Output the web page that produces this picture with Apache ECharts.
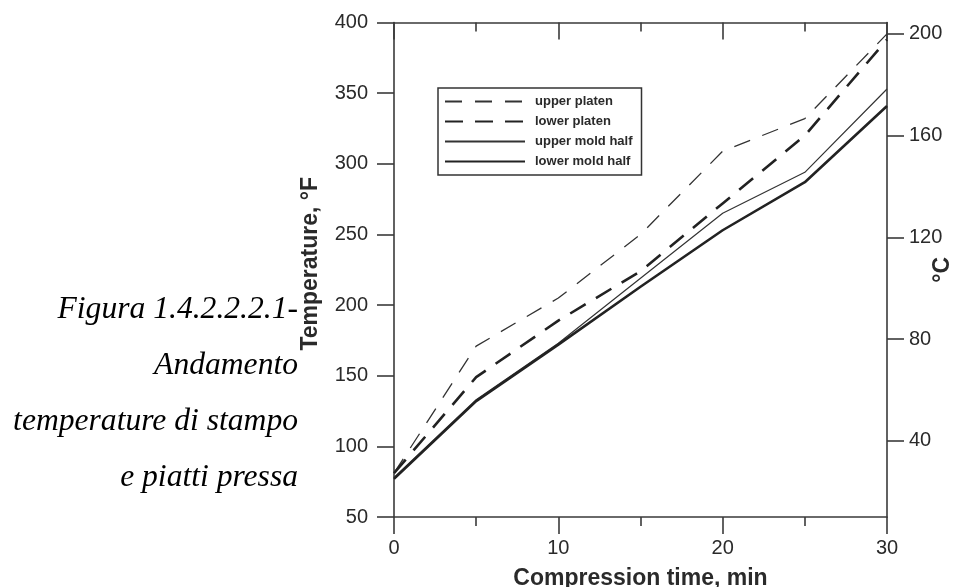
<!DOCTYPE html>
<html>
<head>
<meta charset="utf-8">
<script src="https://cdn.jsdelivr.net/npm/echarts@6/dist/echarts.min.js"></script>
<style>
html,body{margin:0;padding:0;background:#fff;}
#c{width:967px;height:587px;}
</style>
</head>
<body>
<div id="c"></div>
<script>
// ---- data ----
const times = [0, 5, 10, 15, 20, 25, 30];
const upperPlaten = [81, 171, 205, 250, 309, 332, 392];
const lowerPlaten = [81, 149, 189, 224, 272, 320, 388];
const upperMold = [78, 133, 173, 219, 265, 294, 353];
const lowerMold = [77, 132, 172, 213, 253, 287, 341];
const seriesNames = ['upper platen', 'lower platen', 'upper mold half', 'lower mold half'];
const celsiusTicks = [40, 80, 120, 160, 200];
const captionLines = ['Figura 1.4.2.2.2.1-', 'Andamento', 'temperature di stampo', 'e piatti pressa'];
const xTitle = 'Compression time, min';
const yTitleF = 'Temperature, °F';
const yTitleC = '°C';

const fMin = 50, fMax = 400;
const toC = f => (f - 32) * 5 / 9;

const pairs = arr => times.map((t, i) => [t, arr[i]]);

const axisCol = '#3a3a3a';
const txtCol = '#2a2a2a';
const font = '"Liberation Sans", Arial, sans-serif';

const chart = echarts.init(document.getElementById('c'));

const lineStyles = [
  { width: 1.3, type: [17, 13], color: '#333' },
  { width: 2.6, type: [18, 12], color: '#222' },
  { width: 1.2, type: 'solid', color: '#333' },
  { width: 2.6, type: 'solid', color: '#222' }
];
const dataSets = [upperPlaten, lowerPlaten, upperMold, lowerMold];
const axLine = { show: true, onZero: false, lineStyle: { color: axisCol, width: 1.6 } };

chart.setOption({
  animation: false,
  backgroundColor: '#fff',
  grid: { left: 394, right: 80, top: 22.6, bottom: 70, containLabel: false, outerBoundsMode: 'none' },
  legend: {
    orient: 'vertical',
    left: 438,
    top: 88,
    padding: [7, 9, 7, 6],
    itemGap: 7,
    itemWidth: 80,
    itemHeight: 13,
    borderColor: '#333',
    borderWidth: 1.5,
    data: seriesNames,
    itemStyle: { opacity: 0 },
    textStyle: { fontFamily: font, fontWeight: 'bold', fontSize: 13, color: txtCol, padding: [0, 0, 0, 5] }
  },
  xAxis: [
    {
      type: 'value', position: 'bottom', min: 0, max: 30, interval: 10,
      axisLine: axLine,
      axisTick: { show: true, inside: false, length: 17, lineStyle: { color: axisCol, width: 1.6 } },
      minorTick: { show: true, splitNumber: 2, length: 9, lineStyle: { color: axisCol, width: 1.6 } },
      axisLabel: { margin: 21, fontFamily: font, fontSize: 20, color: txtCol },
      splitLine: { show: false },
      name: xTitle, nameLocation: 'middle', nameGap: 50, nameMoveOverlap: false,
      nameTextStyle: { fontFamily: font, fontWeight: 'bold', fontSize: 23, color: txtCol }
    },
    {
      type: 'value', position: 'top', min: 0, max: 30, interval: 10,
      axisLine: axLine,
      axisTick: { show: true, inside: true, length: 17, lineStyle: { color: axisCol, width: 1.6 } },
      minorTick: { show: true, splitNumber: 2, length: 9, lineStyle: { color: axisCol, width: 1.6 } },
      axisLabel: { show: false },
      splitLine: { show: false }
    }
  ],
  yAxis: [
    {
      type: 'value', position: 'left', min: fMin, max: fMax, interval: 50,
      axisLine: axLine,
      axisTick: { show: true, inside: false, length: 17, lineStyle: { color: axisCol, width: 1.6 } },
      axisLabel: { margin: 26, fontFamily: font, fontSize: 20, color: txtCol },
      splitLine: { show: false },
      name: yTitleF, nameLocation: 'middle', nameGap: 72, nameRotate: 90, nameMoveOverlap: false,
      nameTextStyle: { fontFamily: font, fontWeight: 'bold', fontSize: 23, color: txtCol, padding: [0, 0, 0, 12] }
    },
    {
      type: 'value', position: 'right', min: toC(fMin), max: toC(fMax),
      axisLine: axLine,
      axisTick: { show: true, inside: false, length: 17, customValues: celsiusTicks, lineStyle: { color: axisCol, width: 1.6 } },
      axisLabel: { margin: 22, fontFamily: font, fontSize: 20, color: txtCol, customValues: celsiusTicks },
      splitLine: { show: false },
      name: yTitleC, nameLocation: 'middle', nameGap: 44, nameRotate: 90, nameMoveOverlap: false,
      nameTextStyle: { fontFamily: font, fontWeight: 'bold', fontSize: 23, color: txtCol }
    }
  ],
  graphic: captionLines.map((s, i) => ({
    type: 'text',
    right: 967 - 298,
    top: 312 + i * 55.8 - 18,
    style: {
      text: s,
      font: 'italic 31.6px "Liberation Serif", "Times New Roman", serif',
      fill: '#000',
      textAlign: 'right'
    }
  })),
  series: dataSets.map((d, i) => ({
    name: seriesNames[i],
    type: 'line',
    xAxisIndex: 0,
    yAxisIndex: 0,
    data: pairs(d),
    symbol: 'none',
    showSymbol: false,
    lineStyle: lineStyles[i],
    itemStyle: { color: lineStyles[i].color },
    z: 3
  }))
});
</script>
</body>
</html>
